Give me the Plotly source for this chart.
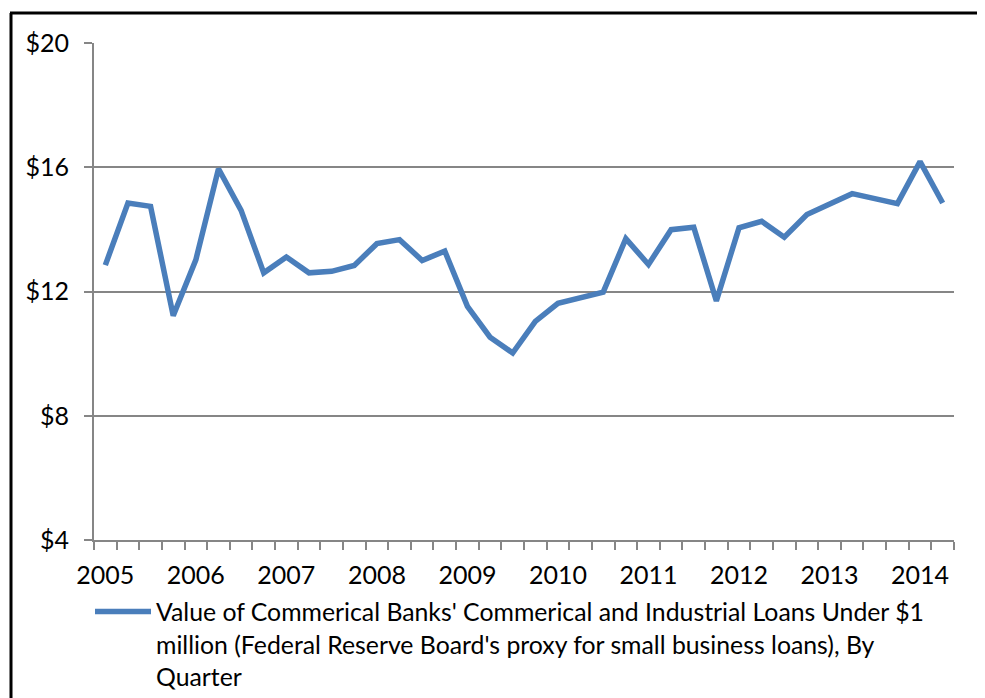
import plotly.graph_objects as go

# ---- data ----
years = ["2005", "2006", "2007", "2008", "2009", "2010", "2011", "2012", "2013", "2014"]
quarters = [f"{y} Q{q}" for y in years for q in range(1, 5)][:38]
loans = [12.85, 14.85, 14.74, 11.22, 13.02, 15.95, 14.61, 12.60,
         13.11, 12.60, 12.65, 12.84, 13.54, 13.67, 13.00, 13.30,
         11.52, 10.53, 10.02, 11.04, 11.62, 11.82, 11.98, 13.70,
         12.87, 13.99, 14.07, 11.70, 14.05, 14.26, 13.75, 14.48,
         14.83, 15.15, 14.99, 14.83, 16.18, 14.85]
y_ticks = [4, 8, 12, 16, 20]
y_tick_labels = ["$4", "$8", "$12", "$16", "$20"]
series_name_lines = [
    "Value of Commerical Banks' Commerical and Industrial Loans Under $1",
    "million (Federal Reserve Board's proxy for small business loans), By",
    "Quarter",
]

FONT = "Lato"
TICK = 25
LEG = 24.8
GRAY = "#868686"

x_idx = list(range(len(quarters)))
year_pos = [quarters.index(f"{y} Q1") for y in years]

fig = go.Figure()
fig.add_trace(go.Scatter(
    x=x_idx, y=loans, mode="lines", name="<br>".join(series_name_lines),
    customdata=quarters,
    line=dict(color="#4a7ebb", width=5.5),
    hovertemplate="%{customdata}: $%{y}<extra></extra>",
))

# page body has an 8px margin: figure coords = screen coords - 8
W, H = 977, 690
L, R, T, B = 86, 31, 35, 158
pw, ph = W - L - R, H - T - B


def px_x(px):
    return (px - L) / pw


def px_y(py):
    return (H - B - py) / ph


fig.update_layout(
    width=W, height=H,
    margin=dict(l=L, r=R, t=T, b=B, autoexpand=False),
    paper_bgcolor="white", plot_bgcolor="white",
    font=dict(family=FONT, size=TICK, color="black"),
    showlegend=True,
    legend=dict(
        x=px_x(82), y=px_y(581), xanchor="left", yanchor="top",
        font=dict(family=FONT, size=LEG, color="black"),
        bgcolor="rgba(0,0,0,0)", itemwidth=56, valign="top",
    ),
    xaxis=dict(
        range=[-0.5, len(quarters) - 0.5],
        tickvals=year_pos, ticktext=years,
        ticks="", showgrid=False, zeroline=False,
        showline=True, linecolor=GRAY, linewidth=2,
        tickfont=dict(family=FONT, size=TICK, color="black"),
        minor=dict(tick0=-0.5, dtick=1, ticks="outside", ticklen=8,
                   tickcolor=GRAY, tickwidth=2, showgrid=False),
        ticklabelstandoff=12,
    ),
    yaxis=dict(
        range=[4, 20], tickvals=y_ticks, ticktext=y_tick_labels,
        showgrid=True, gridcolor=GRAY, gridwidth=2,
        zeroline=False, showline=True, linecolor=GRAY, linewidth=2,
        ticks="outside", ticklen=8, tickcolor=GRAY, tickwidth=2,
        tickfont=dict(family=FONT, size=TICK, color="black"),
        ticklabelstandoff=10,
    ),
    shapes=[
        dict(type="line", xref="paper", yref="paper",
             x0=px_x(3), x1=px_x(3), y0=px_y(5), y1=px_y(700),
             line=dict(color="black", width=3)),
        dict(type="line", xref="paper", yref="paper",
             x0=px_x(2), x1=px_x(990), y0=px_y(5), y1=px_y(5),
             line=dict(color="black", width=3)),
    ],
)

fig.write_html("out.html")
